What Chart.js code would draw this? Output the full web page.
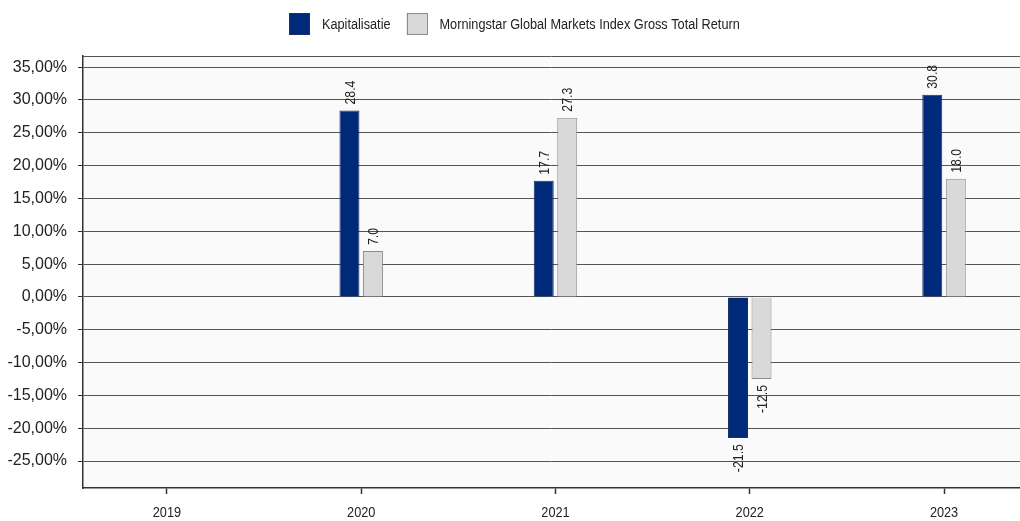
<!DOCTYPE html>
<html>
<head>
<meta charset="utf-8">
<script src="https://cdn.jsdelivr.net/npm/chart.js@4/dist/chart.umd.min.js"></script>
<style>
  html, body { margin: 0; padding: 0; background: #ffffff; }
  #wrap { width: 1020px; height: 521px; position: relative; }
</style>
</head>
<body>
<div id="wrap"><canvas id="c" width="1020" height="521"></canvas></div>
<script>
// ---- data ----
const years = [2019, 2020, 2021, 2022, 2023];
const kapitalisatie = [0, 28.4, 17.7, -21.5, 30.8];
const morningstarIndex = [0, 7.0, 27.3, -12.5, 18.0];
const seriesNames = ['Kapitalisatie', 'Morningstar Global Markets Index Gross Total Return'];
const yTickValues = [-25, -20, -15, -10, -5, 0, 5, 10, 15, 20, 25, 30, 35];

const REGULAR = "'Liberation Sans', Arial, sans-serif";
const NARROW_SCALE = 0.82; // emulate a narrow face by horizontal scaling

const toPoints = arr => years.map((y, i) => ({ x: y, y: arr[i] }));

const bgPlugin = {
  id: 'plotBg',
  beforeDraw(chart) {
    const { ctx, chartArea: a } = chart;
    ctx.save();
    ctx.fillStyle = '#fafafa';
    ctx.fillRect(a.left, a.top, a.right - a.left, a.bottom - a.top);
    ctx.restore();
  },
  afterDraw(chart) {
    const { ctx, chartArea: a } = chart;
    ctx.save();
    ctx.strokeStyle = '#555555';
    ctx.lineWidth = 1;
    ctx.beginPath();
    ctx.moveTo(a.left, Math.round(a.top) + 0.5);
    ctx.lineTo(a.right, Math.round(a.top) + 0.5);
    ctx.stroke();
    // x-axis category labels (narrow face), positioned by the x scale
    const xs = chart.scales.x;
    ctx.font = '15.5px ' + REGULAR;
    ctx.fillStyle = '#222222';
    ctx.textAlign = 'center';
    ctx.textBaseline = 'middle';
    xs.ticks.forEach((t, i) => {
      const px = xs.getPixelForTick(i);
      ctx.save();
      ctx.translate(px, a.bottom + 25);
      ctx.scale(NARROW_SCALE, 1);
      ctx.fillText(String(t.value), 0, 0);
      ctx.restore();
    });
    ctx.restore();
  }
};

const labelPlugin = {
  id: 'valueLabels',
  afterDatasetsDraw(chart) {
    const { ctx } = chart;
    ctx.save();
    ctx.font = '15px ' + REGULAR;
    ctx.fillStyle = '#222222';
    ctx.textBaseline = 'middle';
    chart.data.datasets.forEach((ds, di) => {
      const meta = chart.getDatasetMeta(di);
      meta.data.forEach((el, i) => {
        const v = ds.data[i].y;
        if (!v) return;
        const txt = v.toFixed(1);
        ctx.save();
        if (v > 0) {
          ctx.translate(el.x + 1, el.y - 6);
          ctx.rotate(-Math.PI / 2);
          ctx.textAlign = 'left';
        } else {
          ctx.translate(el.x + 1, el.y + 6);
          ctx.rotate(-Math.PI / 2);
          ctx.textAlign = 'right';
        }
        ctx.scale(NARROW_SCALE, 1);
        ctx.fillText(txt, 0, 0);
        ctx.restore();
      });
    });
    ctx.restore();
  }
};

const legendPlugin = {
  id: 'customLegend',
  afterDraw(chart) {
    const { ctx } = chart;
    const boxW = 21, boxH = 22, gap = 12, itemGap = 16, top = 13;
    ctx.save();
    ctx.font = '15.5px ' + REGULAR;
    const items = chart.data.datasets.map(ds => {
      const tw = ctx.measureText(ds.label).width * NARROW_SCALE;
      return { text: ds.label, fill: ds.backgroundColor, stroke: ds.borderColor, w: boxW + gap + tw };
    });
    const total = items.reduce((s, it) => s + it.w, 0) + itemGap * (items.length - 1);
    let x = Math.round(514 - total / 2);
    items.forEach(it => {
      ctx.fillStyle = it.fill;
      ctx.fillRect(x, top, boxW, boxH);
      ctx.strokeStyle = it.stroke;
      ctx.lineWidth = 1;
      ctx.strokeRect(Math.round(x) + 0.5, top + 0.5, boxW - 1, boxH - 1);
      ctx.save();
      ctx.fillStyle = '#222222';
      ctx.textAlign = 'left';
      ctx.textBaseline = 'middle';
      ctx.translate(x + boxW + gap, top + boxH / 2 + 1);
      ctx.scale(NARROW_SCALE, 1);
      ctx.fillText(it.text, 0, 0);
      ctx.restore();
      x += it.w + itemGap;
    });
    ctx.restore();
  }
};

new Chart(document.getElementById('c'), {
  type: 'bar',
  data: {
    datasets: [
      {
        label: seriesNames[0],
        data: toPoints(kapitalisatie),
        backgroundColor: '#00297a',
        borderColor: '#1b2f66',
        borderWidth: 1,
        categoryPercentage: 0.242,
        barPercentage: 0.85
      },
      {
        label: seriesNames[1],
        data: toPoints(morningstarIndex),
        backgroundColor: '#d9d9d9',
        borderColor: '#8c8c8c',
        borderWidth: 1,
        categoryPercentage: 0.242,
        barPercentage: 0.85
      }
    ]
  },
  options: {
    responsive: false,
    animation: false,
    layout: { padding: { top: 56, left: 0, right: 0, bottom: 0 } },
    plugins: {
      legend: { display: false },
      tooltip: { enabled: false }
    },
    scales: {
      x: {
        type: 'linear',
        offset: false,
        min: 2018.568,
        max: 2023.391,
        afterBuildTicks: s => { s.ticks = years.map(v => ({ value: v })); },
        afterFit: s => { s.height = 33; },
        ticks: { display: false, autoSkip: false },
        grid: {
          offset: false, drawOnChartArea: false, drawTicks: true, tickLength: 6,
          color: '#333333', tickColor: '#333333', tickWidth: 1.5
        },
        border: { color: '#333333', width: 1.5 }
      },
      y: {
        min: -29.1,
        max: 36.7,
        afterBuildTicks: s => { s.ticks = yTickValues.map(v => ({ value: v })); },
        afterFit: s => { s.width = 83; },
        ticks: {
          callback: v => v.toFixed(2).replace('.', ',') + '%',
          font: { family: REGULAR, size: 16 },
          color: '#222222',
          padding: 11
        },
        grid: { color: '#555555', lineWidth: 1, tickLength: 5, tickColor: '#333333' },
        border: { color: '#333333', width: 1.5 }
      }
    }
  },
  plugins: [bgPlugin, labelPlugin, legendPlugin]
});
</script>
</body>
</html>
